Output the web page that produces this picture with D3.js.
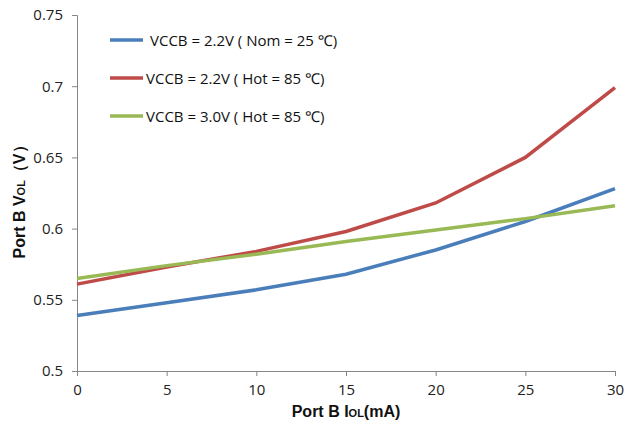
<html>
<head>
<meta charset="utf-8" />
<script src="https://cdn.jsdelivr.net/npm/d3@7"></script>
<style>
  body { margin: 0; background: #fff; }
  text { font-family: "Open Sans", "Noto Sans", sans-serif; }
  text.title { font-family: "Liberation Sans", Arial, sans-serif; font-weight: bold; }
</style>
</head>
<body>
<script>
var width = 625;
var height = 428;

var currents = [0, 5, 10, 15, 20, 25, 30];
var nom22 = [0.539, 0.548, 0.557, 0.568, 0.585, 0.605, 0.628];
var hot22 = [0.561, 0.573, 0.584, 0.598, 0.618, 0.650, 0.699];
var hot30 = [0.565, 0.574, 0.582, 0.591, 0.599, 0.607, 0.616];
var seriesNames = ['VCCB = 2.2V ( Nom = 25 \u2103)', 'VCCB = 2.2V ( Hot = 85 \u2103)', 'VCCB = 3.0V ( Hot = 85 \u2103)'];
var colors = ['#4a7ebb', '#be4b48', '#98b954'];
var xTicks = [0, 5, 10, 15, 20, 25, 30];
var yTicks = [0.5, 0.55, 0.6, 0.65, 0.7, 0.75];

var series = [nom22, hot22, hot30];

var svg = d3.select('body').append('svg')
    .attr('width', width)
    .attr('height', height);

var x = d3.scaleLinear().domain([0, 30]).range([77, 615]);
var y = d3.scaleLinear().domain([0.5, 0.75]).range([371, 15]);

var xAxis = svg.append('g')
    .attr('transform', 'translate(0,' + y(0.5) + ')')
    .call(d3.axisBottom(x).tickValues(xTicks).tickSize(5).tickPadding(8).tickFormat(d3.format('d')));
var yAxis = svg.append('g')
    .attr('transform', 'translate(' + x(0) + ',0)')
    .call(d3.axisLeft(y).tickValues(yTicks).tickSize(5).tickPadding(9).tickFormat(function (d) { return String(+d.toFixed(2)); }));

[xAxis, yAxis].forEach(function (g) {
    g.selectAll('path, line').attr('stroke', '#868686');
    g.selectAll('text').attr('font-size', 15).attr('fill', '#222');
    g.attr('font-family', null);
});

var line = d3.line()
    .x(function (d, i) { return x(currents[i]); })
    .y(function (d) { return y(d); });

svg.selectAll('path.series')
    .data(series)
    .enter()
    .append('path')
    .attr('class', 'series')
    .attr('fill', 'none')
    .attr('stroke', function (d, i) { return colors[i]; })
    .attr('stroke-width', 3.5)
    .attr('d', line);

// legend
var legendY = [40, 78, 116];
var legendTextX = [150, 146, 146];
var legend = svg.selectAll('g.legend')
    .data(seriesNames)
    .enter()
    .append('g')
    .attr('class', 'legend');
legend.append('line')
    .attr('x1', 110).attr('x2', 143)
    .attr('y1', function (d, i) { return legendY[i]; })
    .attr('y2', function (d, i) { return legendY[i]; })
    .attr('stroke', function (d, i) { return colors[i]; })
    .attr('stroke-width', 3.5);
legend.append('text')
    .attr('x', function (d, i) { return legendTextX[i]; })
    .attr('y', function (d, i) { return legendY[i] + 6; })
    .attr('font-size', 15)
    .attr('fill', '#111')
    .text(function (d) { return d; });

// axis titles
var xt = svg.append('text')
    .attr('class', 'title')
    .attr('x', 346).attr('y', 417)
    .attr('text-anchor', 'middle')
    .attr('font-size', 16)
    .attr('fill', '#111');
xt.append('tspan').text('Port B I');
xt.append('tspan').attr('font-size', 11).text('OL');
xt.append('tspan').text('(mA)');

var yt = svg.append('text')
    .attr('class', 'title')
    .attr('transform', 'translate(25,198) rotate(-90)')
    .attr('text-anchor', 'middle')
    .attr('font-size', 16)
    .attr('fill', '#111');
yt.append('tspan').text('Port B V');
yt.append('tspan').attr('font-size', 11).text('OL');
yt.append('tspan').text('\uff08V\uff09');
</script>
</body>
</html>
